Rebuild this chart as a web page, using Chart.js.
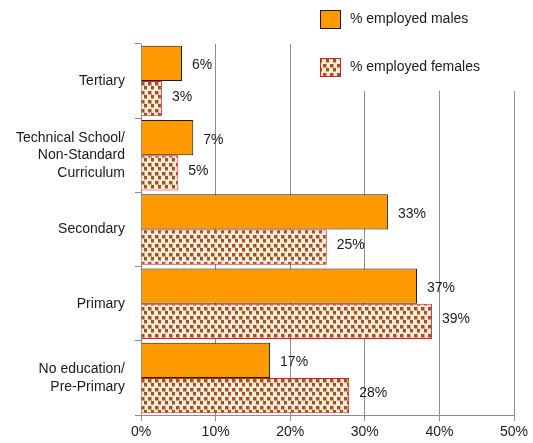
<!DOCTYPE html>
<html>
<head>
<meta charset="utf-8">
<script src="https://cdn.jsdelivr.net/npm/chart.js@4"></script>
<style>
  body { margin: 0; background: #fff; }
  #wrap { width: 533px; height: 443px; }
</style>
</head>
<body>
<div id="wrap"><canvas id="myChart" width="533" height="443"></canvas></div>
<script>
// data
var categories = ['Tertiary', ['Technical School/', 'Non-Standard', 'Curriculum'], 'Secondary', 'Primary', ['No education/', 'Pre-Primary']];
var males = [5.5, 7.0, 33.1, 37.0, 17.3];
var females = [2.8, 5.0, 24.9, 39.0, 27.9];
var maleLabels = ['6%', '7%', '33%', '37%', '17%'];
var femaleLabels = ['3%', '5%', '25%', '39%', '28%'];
var seriesNames = ['% employed males', '% employed females'];

const ctx = document.getElementById('myChart');
const FONT = '"Liberation Sans", Arial, sans-serif';

// dotted brown pattern for the female bars
function makePattern() {
    var c = document.createElement('canvas');
    c.width = 7; c.height = 9;
    var g = c.getContext('2d');
    g.fillStyle = '#fdede0';
    g.fillRect(0, 0, 7, 9);
    g.fillStyle = '#d9a47c';
    g.fillRect(1, 1, 4, 4);
    g.fillRect(4, 5, 3, 4);
    g.fillStyle = '#a5521a';
    g.fillRect(1, 1, 3, 3);
    g.fillRect(4, 5, 3, 3);
    return ctx.getContext('2d').createPattern(c, 'repeat');
}
var pattern = makePattern();

// data labels next to bar ends
const barLabels = {
    id: 'barLabels',
    afterDatasetsDraw(chart) {
        var c = chart.ctx;
        c.save();
        c.font = '14px ' + FONT;
        c.fillStyle = '#1a1a1a';
        c.textBaseline = 'middle';
        c.textAlign = 'left';
        [maleLabels, femaleLabels].forEach(function (labels, di) {
            chart.getDatasetMeta(di).data.forEach(function (bar, i) {
                c.fillText(labels[i], bar.x + 10, bar.y + (di == 0 ? 2 : -2));
            });
        });
        c.restore();
    }
};

// legend box in the top right, covering the grid lines behind it
const boxLegend = {
    id: 'boxLegend',
    beforeDatasetsDraw(chart) {
        var c = chart.ctx;
        c.save();
        c.fillStyle = '#fff';
        c.fillRect(305, 0, 228, 91);
        c.restore();
    },
    afterDraw(chart) {
        var c = chart.ctx;
        c.save();
        c.font = '14px ' + FONT;
        c.textBaseline = 'middle';
        var ys = [19, 67];
        chart.data.datasets.forEach(function (ds, i) {
            var y = ys[i];
            c.fillStyle = ds.backgroundColor;
            c.fillRect(320, y - 9, 20, 18);
            c.strokeStyle = ds.borderColor;
            c.lineWidth = 1;
            c.strokeRect(320.5, y - 8.5, 20, 18);
            c.fillStyle = '#1a1a1a';
            c.fillText(ds.label, 350, y);
        });
        c.restore();
    }
};

var myChart = new Chart(ctx, {
    type: 'bar',
    data: {
        labels: categories,
        datasets: [{
                label: seriesNames[0],
                data: males,
                backgroundColor: '#ff9900',
                borderColor: '#1a1a1a',
                borderWidth: 1
            },
            {
                label: seriesNames[1],
                data: females,
                backgroundColor: pattern,
                borderColor: '#e01e1e',
                borderWidth: 1
            }
        ]
    },
    options: {
        indexAxis: 'y',
        responsive: false,
        animation: false,
        layout: { padding: { top: 44, right: 19, bottom: 0, left: 0 } },
        datasets: {
            bar: { categoryPercentage: 0.95, barPercentage: 1 }
        },
        plugins: {
            legend: { display: false },
            tooltip: { enabled: false }
        },
        scales: {
            x: {
                min: 0,
                max: 50,
                ticks: {
                    stepSize: 10,
                    callback: function (v) { return v + '%'; },
                    color: '#1a1a1a',
                    font: { family: FONT, size: 14 },
                    padding: 3
                },
                grid: { color: '#8c8c8c', tickLength: 6 },
                border: { color: '#8c8c8c' },
                afterFit: function (s) { s.height = 28; }
            },
            y: {
                ticks: {
                    color: '#1a1a1a',
                    font: { family: FONT, size: 14, lineHeight: 1.25 },
                    padding: 10
                },
                grid: { offset: true, drawOnChartArea: false, color: '#8c8c8c', tickLength: 6 },
                border: { color: '#8c8c8c' },
                afterFit: function (s) { s.width = 141; }
            }
        }
    },
    plugins: [barLabels, boxLegend]
});
</script>
</body>
</html>
